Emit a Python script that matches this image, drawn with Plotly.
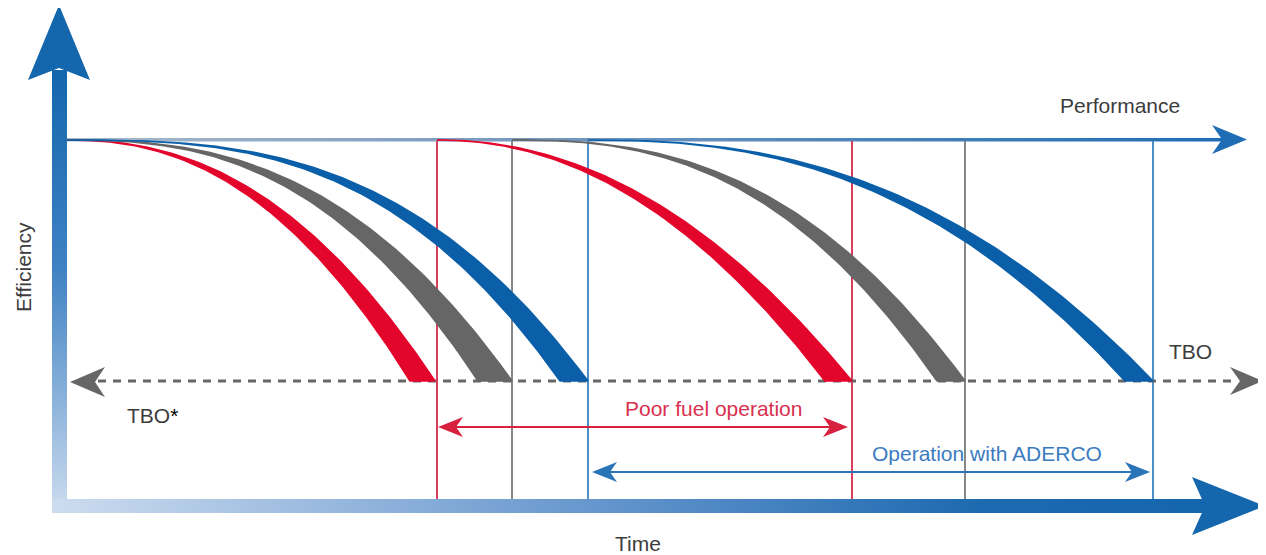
import numpy as np
import plotly.graph_objects as go

W, H = 1266, 555
PAGE_MARGIN = 8  # browser body margin offset compensation

# ---- diagram data (pixel-like units on hidden axes) ----
perf_level = 140          # "Performance" level (efficiency at start)
tbo_level = 381           # TBO threshold level

band_colors = ['#e3052b', '#666666', '#0a5fa8', '#e3052b', '#666666', '#0a5fa8']
band_start = [67, 67, 67, 437, 512, 588]
band_end = [435, 512, 588, 852, 965, 1153]
band_width = [25, 34, 28, 27, 28, 28]
band_power = [2.3, 2.6, 2.9, 2.1, 2.55, 2.45]

vert_x = [437, 512, 588, 852, 965, 1153]
vert_colors = ['#d42a4a', '#7a7a7a', '#3a82c4', '#d42a4a', '#7a7a7a', '#3a82c4']
vert_top = 141
vert_bottom = 499

poor_span = [438, 848]
poor_y = 427
aderco_span = [592, 1150]
aderco_y = 472

labels = ['Performance', 'TBO', 'TBO<span style="color:#000">*</span>', 'Poor fuel operation',
          'Operation with ADERCO', 'Efficiency', 'Time']
label_x = [1120, 1190, 152, 713, 987, 23, 638]
label_y = [105, 351, 415, 408, 453, 267, 543]
label_colors = ['#3c3c3c', '#3c3c3c', '#3c3c3c', '#d9304f', '#3b7bbf', '#3c3c3c', '#3c3c3c']
label_angle = [0, 0, 0, 0, 0, -90, 0]

FONT = 'Liberation Sans, Arial, sans-serif'
AX_DARK = '#1466ad'

fig = go.Figure()


def head(tx, ty, direction, L, hw, notch):
    if direction == 'right':
        xs = [tx, tx - L, tx - L + notch, tx - L, tx]
        ys = [ty, ty - hw, ty, ty + hw, ty]
    elif direction == 'left':
        xs = [tx, tx + L, tx + L - notch, tx + L, tx]
        ys = [ty, ty - hw, ty, ty + hw, ty]
    else:  # up (screen), y axis reversed
        xs = [tx, tx - hw, tx, tx + hw, tx]
        ys = [ty, ty + L, ty + L - notch, ty + L, ty]
    return xs, ys


def poly(xs, ys, color, **kw):
    fig.add_trace(go.Scatter(x=xs, y=ys, mode='lines', fill='toself', fillcolor=color,
                             line=dict(width=0, color=color), hoverinfo='skip', **kw))


# ---- axes (gradient arrows) ----
fig.add_trace(go.Scatter(x=[52, 67, 67, 52, 52], y=[70, 70, 513, 513, 70], mode='lines',
                         fill='toself', line=dict(width=0),
                         fillgradient=dict(type='vertical', start=70, stop=513,
                                           colorscale=[[0, AX_DARK], [0.45, '#3f82c3'], [1, '#cddcef']]),
                         hoverinfo='skip'))
fig.add_trace(go.Scatter(x=[52, 1207, 1207, 52, 52], y=[499, 499, 513, 513, 499], mode='lines',
                         fill='toself', line=dict(width=0),
                         fillgradient=dict(type='horizontal', start=52, stop=1207,
                                           colorscale=[[0, '#cddcef'], [0.45, '#6a99cf'],
                                                       [0.8, '#1e6ab0'], [1, AX_DARK]]),
                         hoverinfo='skip'))
hx, hy = head(59, 5, 'up', 75, 31, 12)
poly(hx, hy, AX_DARK)
hx, hy = head(1265, 506, 'right', 73, 29, 13)
poly(hx, hy, AX_DARK)

# ---- performance line ----
fig.add_trace(go.Scatter(x=[67, 1222, 1222, 67, 67], y=[138, 138, 141.5, 141.5, 138], mode='lines',
                         fill='toself', line=dict(width=0),
                         fillgradient=dict(type='horizontal', start=67, stop=1222,
                                           colorscale=[[0, '#a9b9cc'], [0.35, '#7d9cc0'], [1, '#1f6db4']]),
                         hoverinfo='skip'))
hx, hy = head(1247, 139.5, 'right', 35, 14.5, 10)
poly(hx, hy, '#1f6db4')

# ---- vertical lines ----
for x, c in zip(vert_x, vert_colors):
    fig.add_trace(go.Scatter(x=[x, x], y=[vert_top, vert_bottom], mode='lines',
                             line=dict(color=c, width=1.8), hoverinfo='skip'))

# ---- TBO dashed line ----
fig.add_trace(go.Scatter(x=[98, 1238], y=[tbo_level, tbo_level], mode='lines',
                         line=dict(color='#666666', width=3, dash='8px,7px'), hoverinfo='skip'))
hx, hy = head(70, tbo_level + 1, 'left', 35, 15, 10)
poly(hx, hy, '#666666')
hx, hy = head(1263, tbo_level, 'right', 33, 14, 10)
poly(hx, hy, '#666666')

# ---- efficiency bands ----
t = np.linspace(0, 1, 120)
for c, x0, x1, w, p in zip(band_colors, band_start, band_end, band_width, band_power):
    yy = perf_level + (tbo_level - perf_level) * t ** p
    xu = x0 + t * (x1 - x0)
    xl = x0 + t * (x1 - w - x0)
    xs = np.concatenate([xu, xl[::-1]])
    ys = np.concatenate([yy, yy[::-1]])
    fig.add_trace(go.Scatter(x=xs, y=ys, mode='lines', fill='toself', fillcolor=c,
                             line=dict(color=c, width=1.6), hoverinfo='skip'))

# ---- double arrows ----
for (a, b), yv, c in [(poor_span, poor_y, '#d8203f'), (aderco_span, aderco_y, '#2a74b8')]:
    fig.add_trace(go.Scatter(x=[a + 8, b - 8], y=[yv, yv], mode='lines',
                             line=dict(color=c, width=2.2), hoverinfo='skip'))
    hx, hy = head(a, yv, 'left', 25, 10, 7)
    poly(hx, hy, c)
    hx, hy = head(b, yv, 'right', 25, 10, 7)
    poly(hx, hy, c)

# ---- labels ----
for txt, x, y, c, ang in zip(labels, label_x, label_y, label_colors, label_angle):
    fig.add_annotation(x=x, y=y, xref='x', yref='y', text=txt, showarrow=False,
                       textangle=ang, font=dict(family=FONT, size=21, color=c),
                       xanchor='center', yanchor='middle')

fig.update_layout(width=W, height=H, margin=dict(l=0, r=0, t=0, b=0),
                  paper_bgcolor='white', plot_bgcolor='white', showlegend=False,
                  hovermode=False,
                  xaxis=dict(range=[PAGE_MARGIN, W + PAGE_MARGIN], visible=False, fixedrange=True),
                  yaxis=dict(range=[H + PAGE_MARGIN, PAGE_MARGIN], visible=False, fixedrange=True))

fig.write_html('out.html')
